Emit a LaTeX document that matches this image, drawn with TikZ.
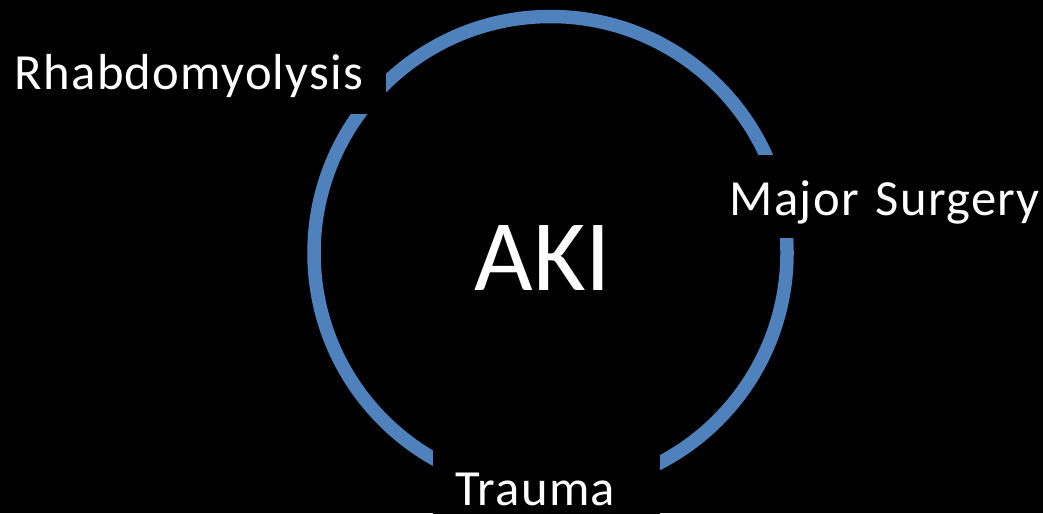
\documentclass[tikz,border=0pt]{standalone}
\usepackage{fontspec}
\setmainfont{Carlito}
\definecolor{ringblue}{HTML}{4F81BD}
\begin{document}
\begin{tikzpicture}[x=0.025cm,y=-0.025cm,
    cause/.style={fill=black,text=white,
      font=\fontsize{36}{40}\selectfont\addfontfeatures{LetterSpace=2.5},
      anchor=base west,align=left,inner ysep=0pt,text depth=#1},
    cause/.default=18pt]
  \path[use as bounding box,fill=black] (0,0) rectangle (1043,513);
  \draw[ringblue,line width=9.6pt] (550.5,253) circle (236.5);
  \node[text=white,font=\fontsize{72}{80}\selectfont,anchor=base] (aki) at (543,290) {AKI};
  \node[cause,text height=35pt,inner xsep=14pt,text width=250pt] (rhabdo) at (-5,89) {Rhabdomyolysis};
  \node[cause=16.5pt,text height=43pt,inner xsep=14pt,text width=235pt] (surgery) at (710,215) {Major Surgery};
  \node[cause=16pt,text height=43pt,inner xsep=15.5pt,text width=130pt] (trauma) at (433,505) {Trauma};
\end{tikzpicture}
\end{document}
